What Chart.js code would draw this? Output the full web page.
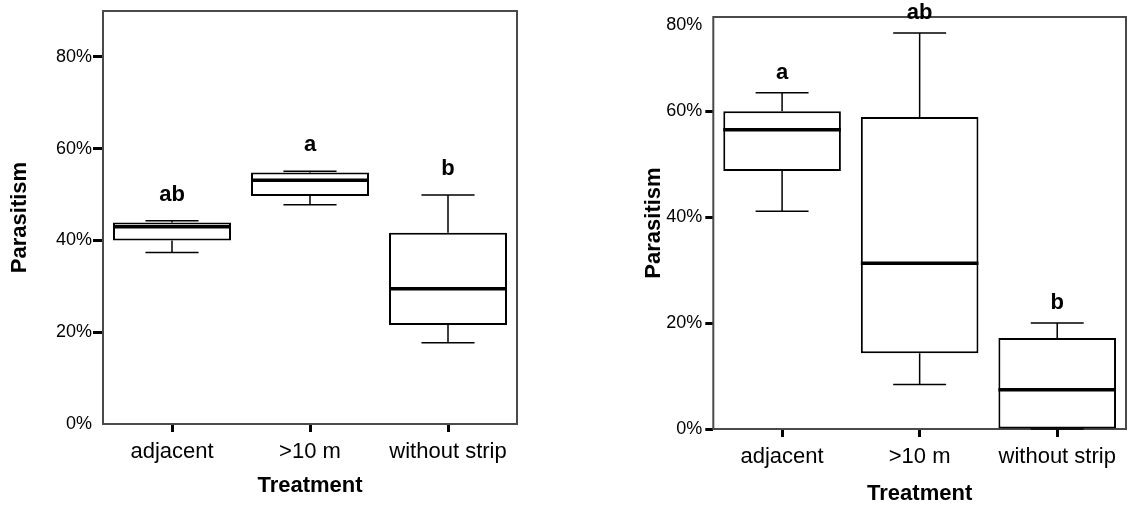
<!DOCTYPE html>
<html>
<head>
<meta charset="utf-8">
<script src="https://cdn.jsdelivr.net/npm/chart.js@4/dist/chart.umd.min.js"></script>
<style>
    html, body { margin: 0; padding: 0; background: #fff; }
    #wrap { position: relative; width: 1128px; height: 508px; }
    .panel { position: absolute; top: 0; width: 564px; height: 508px; }
</style>
</head>
<body>
<div id="wrap">
    <div class="panel" style="left:0"><canvas id="chart_a"></canvas></div>
    <div class="panel" style="left:564px"><canvas id="chart_b"></canvas></div>
</div>
<script>
"use strict";

// DATA
const categories = ["adjacent", ">10 m", "without strip"];
const yTicks = [0, 20, 40, 60, 80];

// left panel
const minA = [37.4, 47.8, 17.7];
const q1A = [40.0, 49.7, 21.6];
const medA = [43.0, 53.1, 29.5];
const q3A = [43.9, 54.8, 41.7];
const maxA = [44.3, 55.1, 49.9];
const lettersA = ["ab", "a", "b"];

// right panel
const minB = [41.1, 8.4, 0.0];
const q1B = [48.7, 14.3, 0.0];
const medB = [56.5, 31.3, 7.4];
const q3B = [60.0, 58.9, 17.2];
const maxB = [63.5, 74.8, 20.0];
const lettersB = ["a", "ab", "b"];

const FONT = "'Liberation Sans', Arial, sans-serif";

// draws frame, whiskers, medians, letters and the y labels
const boxPlugin = {
    id: "boxplot",
    beforeDatasetsDraw(chart) {
        const { ctx, chartArea: a } = chart;
        ctx.save();
        ctx.strokeStyle = "#4a4a4a";
        ctx.lineWidth = 2;
        ctx.strokeRect(a.left, a.top, a.right - a.left, a.bottom - a.top);
        ctx.restore();
    },
    afterDraw(chart) {
        const { ctx, chartArea: a } = chart;
        const box = chart.options.plugins.boxplot;
        const y = chart.scales.y;
        const bars = chart.getDatasetMeta(0).data;

        ctx.save();
        ctx.strokeStyle = "#000";
        ctx.fillStyle = "#000";
        bars.forEach((bar, i) => {
            const { x, width } = bar.getProps(["x", "width"], true);
            const cap = width * 0.225;
            const yMin = y.getPixelForValue(box.min[i]);
            const yQ1 = y.getPixelForValue(box.q1[i]);
            const yQ3 = y.getPixelForValue(box.q3[i]);
            const yMax = y.getPixelForValue(box.max[i]);
            const yMed = y.getPixelForValue(box.med[i]);

            ctx.lineWidth = 1.5;
            ctx.beginPath();
            ctx.moveTo(x, yQ3);
            ctx.lineTo(x, yMax);
            ctx.moveTo(x - cap, yMax);
            ctx.lineTo(x + cap, yMax);
            ctx.moveTo(x, yQ1);
            ctx.lineTo(x, yMin);
            ctx.moveTo(x - cap, yMin);
            ctx.lineTo(x + cap, yMin);
            ctx.stroke();

            ctx.lineWidth = 3.5;
            ctx.beginPath();
            ctx.moveTo(x - width / 2, yMed);
            ctx.lineTo(x + width / 2, yMed);
            ctx.stroke();

            ctx.font = `bold 22px ${FONT}`;
            ctx.textAlign = "center";
            ctx.textBaseline = "middle";
            ctx.fillText(box.letters[i], x, yMax - box.gap);
        });

        // y tick labels, kept inside the frame at the top
        ctx.font = `18px ${FONT}`;
        ctx.textAlign = "right";
        ctx.textBaseline = "middle";
        for (const v of yTicks) {
            const py = Math.max(y.getPixelForValue(v), a.top + 8);
            ctx.fillText(`${v}%`, a.left - 11, py);
        }
        ctx.restore();
    }
};

function createPanel(id, set) {
    const yMax = set.yMax;
    new Chart(document.getElementById(id), {
        type: "bar",
        data: {
            labels: categories,
            datasets: [{
                data: set.q1.map((v, i) => [v, set.q3[i]]),
                backgroundColor: "#fff",
                borderColor: "#000",
                borderWidth: 2,
                borderSkipped: false,
                categoryPercentage: 1,
                barPercentage: 0.855
            }]
        },
        options: {
            responsive: true,
            maintainAspectRatio: false,
            animation: false,
            layout: { padding: set.padding },
            plugins: {
                legend: { display: false },
                tooltip: { enabled: false },
                boxplot: {
                    min: set.min, q1: set.q1, med: set.med, q3: set.q3, max: set.max,
                    letters: set.letters, gap: set.gap
                }
            },
            scales: {
                x: {
                    offset: true,
                    border: { display: false },
                    grid: {
                        offset: false,
                        drawOnChartArea: false,
                        tickLength: 8,
                        tickWidth: 3,
                        tickColor: "#000"
                    },
                    ticks: {
                        color: "#000",
                        padding: 7,
                        font: { family: FONT, size: 22, lineHeight: 1.2 }
                    },
                    title: {
                        display: true,
                        text: "Treatment",
                        color: "#000",
                        padding: { top: 0, bottom: set.xTitlePad },
                        font: { family: FONT, size: 22, weight: "bold", lineHeight: 1 }
                    },
                    afterFit(scale) { scale.height = set.xHeight; }
                },
                y: {
                    min: 0,
                    max: yMax,
                    border: { display: false },
                    grid: {
                        drawOnChartArea: false,
                        tickLength: set.tickLen,
                        tickWidth: (c) => (set.hideTicks.includes(c.tick.value) ? 0 : 3),
                        tickColor: (c) => (set.hideTicks.includes(c.tick.value) ? "rgba(0,0,0,0)" : "#000")
                    },
                    ticks: { display: false },
                    afterBuildTicks(scale) {
                        scale.ticks = yTicks.filter((v) => v <= yMax).map((v) => ({ value: v }));
                    },
                    title: {
                        display: true,
                        text: "Parasitism",
                        color: "#000",
                        padding: { top: 9, bottom: 0 },
                        font: { family: FONT, size: 22, weight: "bold", lineHeight: 1 }
                    },
                    afterFit(scale) { scale.width = set.yWidth; }
                }
            }
        },
        plugins: [boxPlugin]
    });
}

createPanel("chart_a", {
    min: minA, q1: q1A, med: medA, q3: q3A, max: maxA, letters: lettersA,
    yMax: 90, gap: 26, tickLen: 10, hideTicks: [0],
    padding: { left: 0, top: 11, right: 47, bottom: 0 },
    yWidth: 103, xHeight: 84, xTitlePad: 11
});

createPanel("chart_b", {
    min: minB, q1: q1B, med: medB, q3: q3B, max: maxB, letters: lettersB,
    yMax: 77.8, gap: 20, tickLen: 8, hideTicks: [],
    padding: { left: 70, top: 17, right: 2, bottom: 0 },
    yWidth: 79.3, xHeight: 79, xTitlePad: 3
});
</script>
</body>
</html>
